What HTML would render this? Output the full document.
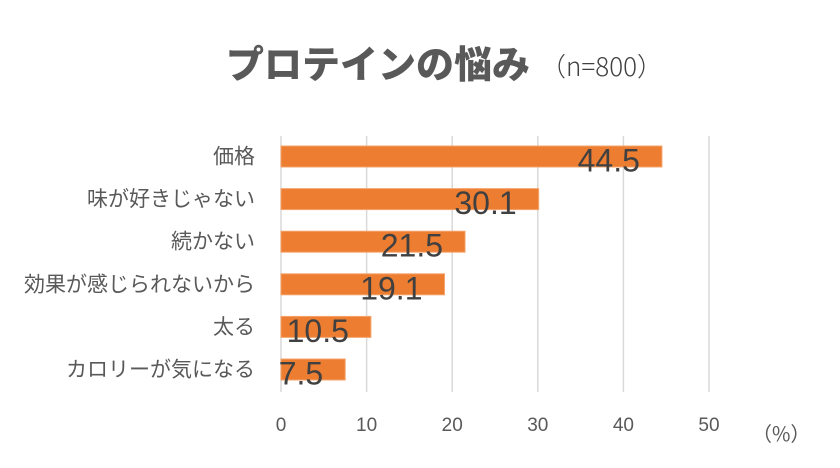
<!DOCTYPE html>
<html><head><meta charset="utf-8">
<style>
body{margin:0;background:#fff;}
svg text{font-family:"Liberation Sans","Noto Sans CJK JP",sans-serif;}
</style></head>
<body>
<svg id="chart" width="840" height="463" viewBox="0 0 840 463" xmlns="http://www.w3.org/2000/svg">
<text x="226" y="78" font-size="38" font-weight="bold" fill="#595959" style="font-family:'Noto Sans CJK JP',sans-serif;font-weight:900">プロテインの悩み</text>
<text x="540" y="76" font-size="26" fill="#404040" style="font-family:'Noto Sans CJK JP',sans-serif;font-weight:300">（n=800）</text>
<g id="grid"></g>
<g id="bars"></g>
<g id="labels"></g>
<text x="752" y="441" font-size="20" fill="#595959" style="font-family:'Noto Sans CJK JP',sans-serif">（%）</text>
</svg>
<script>
const categories = ["価格","味が好きじゃない","続かない","効果が感じられないから","太る","カロリーが気になる"];
const values = [44.5,30.1,21.5,19.1,10.5,7.5];
const ticks = [0,10,20,30,40,50];
const ns="http://www.w3.org/2000/svg";
const x0=281, pxPer=8.56;
const xs=v=>x0+v*pxPer;
const rowY=i=>156.5+i*42.6;
const grid=document.getElementById('grid');
ticks.forEach(t=>{
  const l=document.createElementNS(ns,'line');
  
  
  l.setAttribute('x1',xs(t));l.setAttribute('x2',xs(t));
  l.setAttribute('y1',136);l.setAttribute('y2',392);
  l.setAttribute('stroke','#d9d9d9');l.setAttribute('stroke-width','1.5');
  grid.appendChild(l);
  const tx=document.createElementNS(ns,'text');
  
  
  tx.setAttribute('x',xs(t));tx.setAttribute('y',431);
  tx.setAttribute('text-anchor','middle');tx.setAttribute('font-size','19');tx.setAttribute('fill','#595959');
  tx.textContent=t;grid.appendChild(tx);
});
const bars=document.getElementById('bars'), labels=document.getElementById('labels');
values.forEach((v,i)=>{
  const r=document.createElementNS(ns,'rect');
  
  
  r.setAttribute('x',x0);r.setAttribute('y',rowY(i)-10.5);
  r.setAttribute('width',xs(v)-x0);r.setAttribute('height',21);
  r.setAttribute('fill','#ED7D31');r.setAttribute('stroke','#F4A46C');r.setAttribute('stroke-width','1');
  bars.appendChild(r);
  const c=document.createElementNS(ns,'text');
  
  
  c.setAttribute('x',255);c.setAttribute('y',rowY(i)+7);
  c.setAttribute('text-anchor','end');c.setAttribute('font-size','21');c.setAttribute('fill','#595959');
  c.textContent=categories[i];labels.appendChild(c);
  const t=document.createElementNS(ns,'text');
  
  
  t.setAttribute('x',xs(v)-22);t.setAttribute('y',rowY(i)+15);
  t.setAttribute('text-anchor','end');t.setAttribute('font-size','32');t.setAttribute('fill','#404040');
  t.textContent=v.toFixed(1);labels.appendChild(t);
});
</script>
</body></html>
